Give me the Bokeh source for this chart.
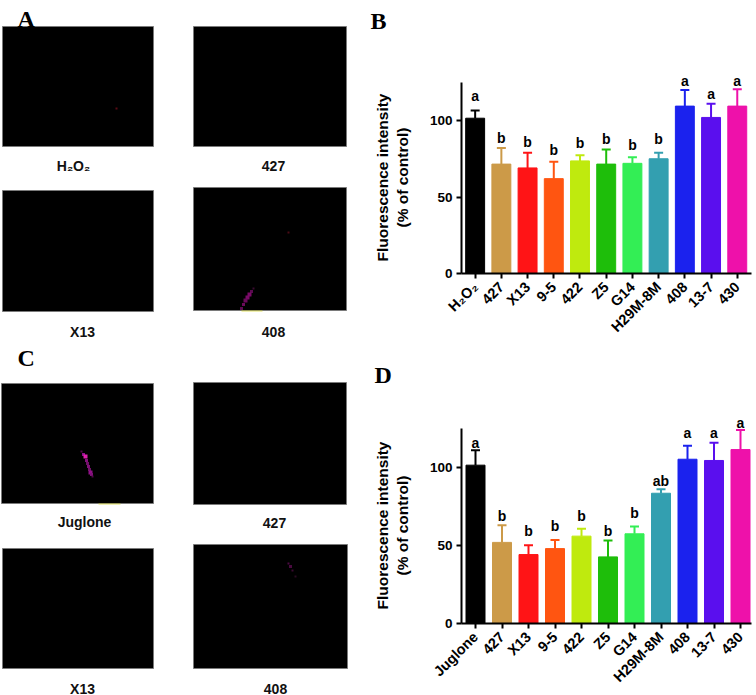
from math import pi
from bokeh.plotting import figure
from bokeh.layouts import row, column
from bokeh.models import Range1d, FixedTicker, Whisker, TeeHead, ColumnDataSource
from bokeh.core.properties import value
from bokeh.embed import file_html
from bokeh.resources import INLINE

FONT = "Liberation Sans"
colors = ["#000000", "#CC9A48", "#FF1416", "#FF5511", "#BFEA0E", "#1EBE0A",
          "#33EE55", "#339FB0", "#1B22EE", "#5A0FEE", "#EE11AA"]

cats_b = ["H₂O₂", "427", "X13", "9-5", "422", "Z5", "G14", "H29M-8M", "408", "13-7", "430"]
vals_b = [101.5, 71.5, 69, 62, 73.6, 71.5, 72, 75, 109.4, 102, 109.4]
tops_b = [106.5, 82, 79, 73, 77.3, 81, 76, 79, 120, 111, 120.5]
sig_b = ["a", "b", "b", "b", "b", "b", "b", "b", "a", "a", "a"]
sig_y_b = [116, 88.7, 85.8, 80.6, 85.6, 88.2, 84, 88.2, 126, 117, 125.5]

cats_d = ["Juglone", "427", "X13", "9-5", "422", "Z5", "G14", "H29M-8M", "408", "13-7", "430"]
vals_d = [101.5, 52, 44.2, 48, 56, 42.7, 57.5, 83.5, 105.3, 104.5, 111.5]
tops_d = [111, 63, 50.2, 53.6, 60.7, 53.2, 62.2, 86, 114, 115.8, 124]
sig_d = ["a", "b", "b", "b", "b", "b", "b", "ab", "a", "a", "a"]
sig_y_d = [116, 69, 59.4, 62.4, 69.2, 59.6, 70.7, 91.5, 122, 122.4, 128.8]

# Micrograph panels: left, right, top, bottom in page pixels
panel_l = [2, 193, 2, 193, 1, 193, 2, 193]
panel_r = [153, 346, 153, 346, 153, 346, 153, 347]
panel_t = [26, 26, 190, 187, 383, 382, 548, 544]
panel_b = [146, 146, 311, 310, 503, 504, 668, 668]
cap_text = ["H₂O₂", "427", "X13", "408", "Juglone", "427", "X13", "408"]
cap_x = [73, 273, 82, 273, 84, 274, 82, 275]
cap_y = [165, 165, 331, 331, 521, 522, 688, 688]
# Fluorescent specks in the panels
spot_x = [116, 288, 253, 251, 249, 247, 245, 243, 241, 81, 83, 85, 86, 87, 88, 89, 90, 91, 92, 288, 290, 292, 295]
spot_y = [108, 232, 288, 291, 294, 297, 300, 304, 308, 451, 454, 456, 460, 463, 466, 469, 472, 474, 476, 563, 566, 570, 576]
spot_s = [2, 2, 2, 3, 4, 4, 4, 3, 3, 2, 3, 4, 3, 3, 3, 3, 4, 3, 2, 2, 3, 2, 2]
spot_c = ["#5a0a14", "#4a0a14", "#3a0a30", "#5a0a50", "#7a0a68", "#7a0a68", "#6a0a5a", "#6a0a5a", "#5a0a50",
          "#50084a", "#90108a", "#e020b0", "#801078", "#701068", "#801078", "#701068", "#901088", "#801078",
          "#50084a", "#4a0a40", "#4a0a40", "#3a0a30", "#2a0a22"]
fringe_l = [241, 98]
fringe_r = [262, 120]
fringe_y = [310.5, 503.5]
# Panel letters and the rotated axis titles, in page pixels
letters = ["A", "B", "C", "D"]
letter_x = [17, 370, 17, 374]
letter_y = [18, 20, 357, 374]
title_text = ["Fluorescence intensity", "(% of control)", "Fluorescence intensity", "(% of control)"]
title_x = [382, 402, 382, 402]
title_y = [177, 177, 525, 525]

SPLIT = 412
left = figure(width=SPLIT, height=695, x_range=Range1d(0, SPLIT), y_range=Range1d(695, 0),
              x_axis_location=None, y_axis_location=None, toolbar_location=None,
              output_backend="svg", min_border=0, outline_line_color=None)
left.grid.visible = False
left.quad(left=panel_l, right=panel_r, top=panel_t, bottom=panel_b,
          fill_color="#000000", line_color="#7a7a7a", line_width=1)
left.segment(x0=fringe_l, x1=fringe_r, y0=fringe_y, y1=fringe_y, line_color="#d8d820", line_width=1, line_alpha=0.7)
left.scatter(x=spot_x, y=spot_y, size=spot_s, color=spot_c, marker="square", line_color=None)
left.text(x=cap_x, y=cap_y, text=cap_text, text_font=value(FONT), text_font_style="bold",
          text_font_size="14px", text_align="center", text_baseline="middle", text_color="#111111")
left.text(x=letter_x, y=letter_y, text=letters, text_font=value("Liberation Serif"),
          text_font_style="bold", text_font_size="24px", text_color="#000000",
          text_align="left", text_baseline="alphabetic")
left.text(x=title_x, y=title_y, text=title_text, angle=pi / 2, text_font=value(FONT), text_font_style="bold",
          text_font_size="15.5px", text_align="center", text_baseline="middle", text_color="#000000")


def bars(cats, vals, tops, sig, sig_y, h, zero_px, px100, axis_px, first_px, step, page_top):
    n = len(cats)
    xs = list(range(n))
    src = ColumnDataSource(dict(x=xs, v=vals, t=tops, c=colors))
    frame_h = zero_px - page_top
    y_top = frame_h / (px100 / 100)
    p = figure(width=756 - SPLIT, height=h, toolbar_location=None, output_backend="svg",
               x_range=Range1d(-(first_px - axis_px) / step, (756 - first_px) / step),
               y_range=Range1d(0, y_top),
               min_border_left=axis_px - SPLIT, min_border_right=0, min_border_top=0,
               min_border_bottom=page_top + h - zero_px, outline_line_color=None)
    p.grid.visible = False
    p.vbar(x="x", top="v", bottom=0, width=19 / step, source=src, fill_color="c", line_color="c", line_width=1)
    p.add_layout(Whisker(base="x", upper="t", lower="v", source=src, dimension="height",
                         line_color="c", line_width=2,
                         upper_head=TeeHead(size=9, line_color="c", line_width=2), lower_head=None))
    p.text(x=xs, y=sig_y, text=sig, text_font=value(FONT), text_font_style="bold", text_font_size="14px",
           text_align="center", text_baseline="middle", text_color="#000000")
    xa, ya = p.xaxis[0], p.yaxis[0]
    xa.ticker = FixedTicker(ticks=xs)
    xa.major_label_overrides = {i: c for i, c in enumerate(cats)}
    xa.major_label_orientation = pi / 4
    xa.bounds = (-(first_px - axis_px) / step, (751 - first_px) / step)
    ya.ticker = FixedTicker(ticks=[0, 50, 100])
    ya.bounds = (0, 125)
    for a in (xa, ya):
        a.axis_line_width = 2
        a.axis_line_color = "#000000"
        a.major_tick_line_width = 2
        a.major_tick_line_color = "#000000"
        a.major_tick_out = 5
        a.major_tick_in = 0
        a.minor_tick_line_color = None
        a.major_label_text_font = FONT
        a.major_label_text_font_style = "bold"
        a.major_label_text_color = "#000000"
    xa.major_label_text_font_size = "14.5px"
    ya.major_label_text_font_size = "13.5px"
    xa.major_label_standoff = 6
    ya.major_label_standoff = 4
    return p


b = bars(cats_b, vals_b, tops_b, sig_b, sig_y_b, 345, 273, 153, 460, 473.7, 26.3, 0)
d = bars(cats_d, vals_d, tops_d, sig_d, sig_y_d, 350, 623, 156, 461, 475, 26.5, 345)

page = row(left, column(b, d, spacing=0), spacing=0)
open("out.html", "w").write(file_html(page, INLINE))
